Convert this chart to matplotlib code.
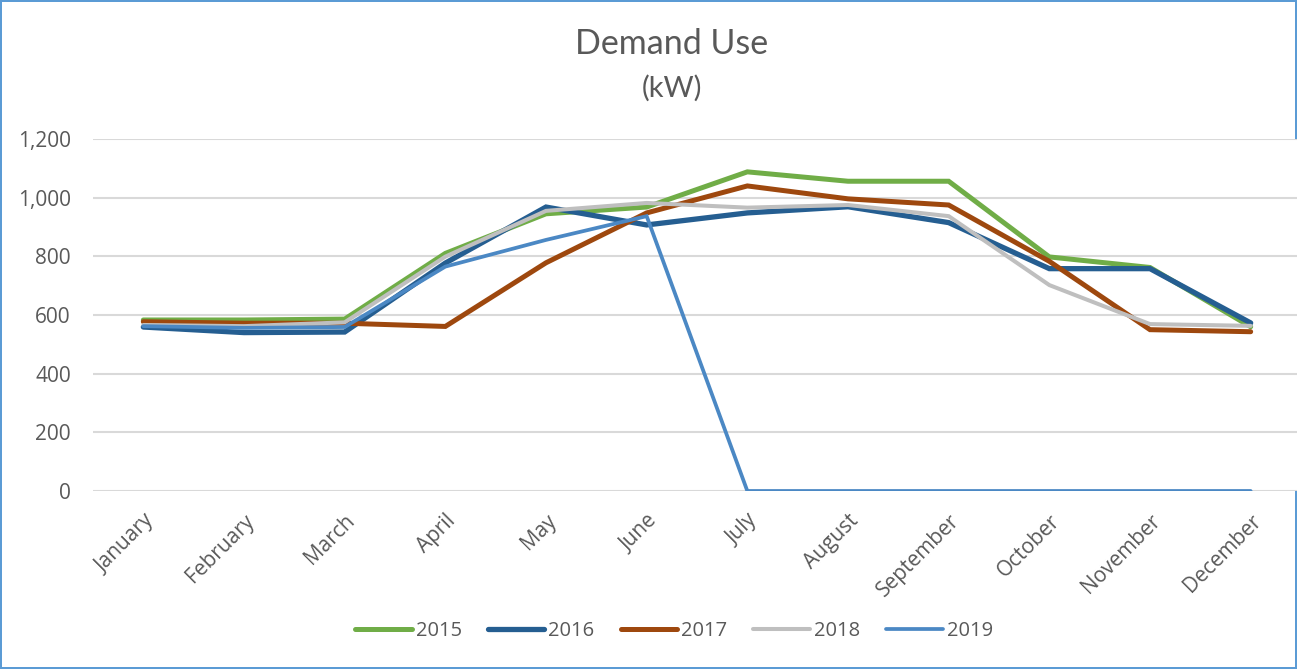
import matplotlib.pyplot as plt
import numpy as np

months = ["January", "February", "March", "April", "May", "June",
          "July", "August", "September", "October", "November", "December"]
years = ["2015", "2016", "2017", "2018", "2019"]

# demand in kW
d2015 = [583, 583, 586, 810, 945, 968, 1088, 1056, 1056, 798, 762, 560]
d2016 = [559, 540, 542, 777, 968, 907, 948, 969, 915, 758, 758, 573]
d2017 = [577, 572, 572, 561, 778, 948, 1040, 996, 975, 783, 550, 543]
d2018 = [566, 562, 575, 799, 955, 982, 966, 975, 937, 702, 569, 563]
d2019 = [562, 556, 559, 765, 856, 937, 0, 0, 0, 0, 0, 0]

series = [d2015, d2016, d2017, d2018, d2019]
colors = ["#70AD47", "#255E91", "#9E480E", "#BFBFBF", "#4B88C4"]
widths = [3.6, 3.8, 3.6, 2.9, 2.7]

txt = "#595959"
plt.rcParams['font.family'] = ['Open Sans', 'DejaVu Sans']

fig = plt.figure(figsize=(12.97, 6.69), dpi=100)
fig.patch.set_edgecolor("#5B9BD5")
fig.patch.set_linewidth(1.5)

ax = fig.add_axes([93 / 1297, 1 - 491 / 669, 1208 / 1297, 352 / 669])

x = np.arange(len(months))
for vals, c, lw, lab in zip(series, colors, widths, years):
    ax.plot(x, vals, color=c, linewidth=lw, label=lab, solid_capstyle="round",
            solid_joinstyle="miter")

ax.set_xlim(-0.5, 11.5)
ax.set_ylim(0, 1200)
ax.set_yticks(range(0, 1201, 200))
ax.set_yticklabels([f"{v:,}" for v in range(0, 1201, 200)])
ax.set_xticks(x)
ax.set_xticklabels(months, rotation=45, ha="right", rotation_mode="anchor")
ax.tick_params(length=0, colors=txt, labelsize=15)
ax.tick_params(axis="y", pad=16)
ax.tick_params(axis="x", pad=14)
ax.grid(axis="y", color="#D9D9D9", linewidth=1.5)
ax.set_axisbelow(True)
for s in ax.spines.values():
    s.set_visible(False)

fig.text(672 / 1297, 1 - 44 / 669, "Demand Use", ha="center", va="center",
         fontsize=24.5, color=txt, family=["Lato", "DejaVu Sans"])
fig.text(672 / 1297, 1 - 88 / 669, "(kW)", ha="center", va="center",
         fontsize=21, color=txt, family=["Lato", "DejaVu Sans"])

fig.legend(loc="center", bbox_to_anchor=(674 / 1297, 1 - 631 / 669), ncol=5,
           frameon=False, fontsize=14.5, labelcolor=txt, handlelength=2.8,
           handletextpad=0.2, columnspacing=1.3)

fig.savefig("out.png", dpi=100)
